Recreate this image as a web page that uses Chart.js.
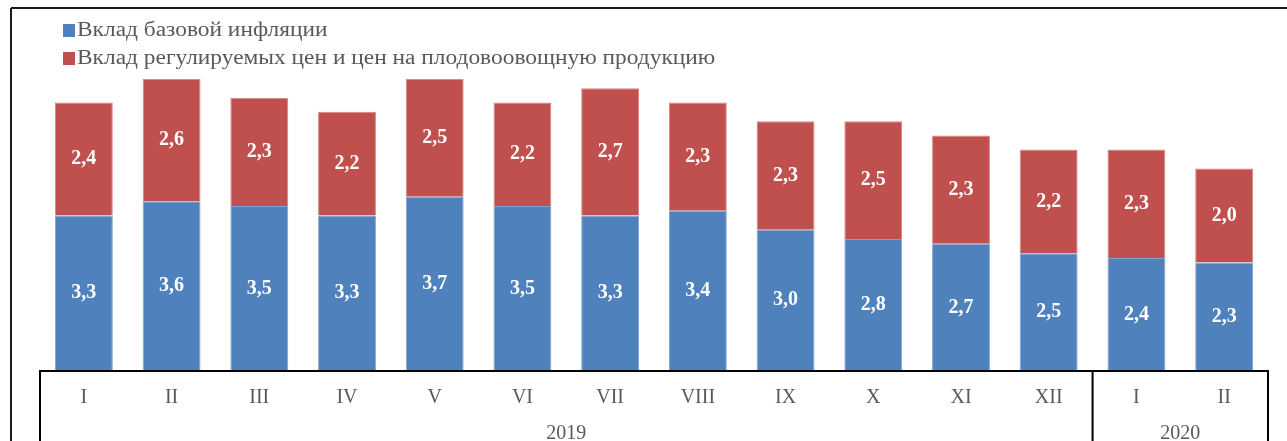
<!DOCTYPE html>
<html>
<head>
<meta charset="utf-8">
<script src="https://cdn.jsdelivr.net/npm/chart.js@4"></script>
<style>
  body { margin: 0; background: #fff; }
  #wrap { width: 1287px; height: 441px; position: relative; }
</style>
</head>
<body>
<div id="wrap"><canvas id="inflChart"></canvas></div>
<script>
const months = ['I', 'II', 'III', 'IV', 'V', 'VI', 'VII', 'VIII', 'IX', 'X', 'XI', 'XII', 'I', 'II'];
const years = ['2019', '2020'];
const monthsPerYear = [12, 2];
const baseInflation = [3.3, 3.6, 3.5, 3.3, 3.7, 3.5, 3.3, 3.4, 3.0, 2.8, 2.7, 2.5, 2.4, 2.3];
const regulatedFood = [2.4, 2.6, 2.3, 2.2, 2.5, 2.2, 2.7, 2.3, 2.3, 2.5, 2.3, 2.2, 2.3, 2.0];
const seriesNames = ['Вклад базовой инфляции', 'Вклад регулируемых цен и цен на плодовоовощную продукцию'];

const serif = '"Liberation Serif", "Times New Roman", serif';
const grey = '#595959';

// labels inside the bars, legend, axis box and years
const decorPlugin = {
    id: 'decor',
    afterDatasetsDraw(chart) {
        const ctx = chart.ctx;
        ctx.save();
        ctx.fillStyle = '#fff';
        ctx.font = 'bold 20px ' + serif;
        ctx.textAlign = 'center';
        ctx.textBaseline = 'middle';
        chart.data.datasets.forEach((ds, i) => {
            chart.getDatasetMeta(i).data.forEach((bar, j) => {
                const txt = ds.data[j].toFixed(1).replace('.', ',');
                ctx.fillText(txt, bar.x, (bar.y + bar.base) / 2);
            });
        });
        ctx.restore();
    },
    afterDraw(chart) {
        const ctx = chart.ctx;
        const area = chart.chartArea;
        const x = chart.scales.x;
        ctx.save();

        // outer frame (top and left)
        ctx.strokeStyle = '#1a1a1a';
        ctx.lineWidth = 2;
        ctx.beginPath();
        ctx.moveTo(11, 8); ctx.lineTo(1287, 8);
        ctx.moveTo(11, 8); ctx.lineTo(11, 441);
        ctx.stroke();

        // legend, one item per line
        ctx.font = '20px ' + serif;
        ctx.textAlign = 'left';
        ctx.textBaseline = 'middle';
        chart.data.datasets.forEach((ds, i) => {
            const y = 31 + 28 * i;
            ctx.fillStyle = ds.backgroundColor;
            ctx.fillRect(63, y - 7, 12, 13);
            ctx.fillStyle = grey;
            ctx.save();
            ctx.translate(77, y);
            ctx.scale(1.17, 1);
            ctx.fillText(ds.label, 0, 0);
            ctx.restore();
        });

        // axis box
        const bottom = chart.height;
        ctx.strokeStyle = '#000';
        ctx.lineWidth = 2;
        ctx.beginPath();
        ctx.moveTo(area.left, bottom); ctx.lineTo(area.left, area.bottom);
        ctx.lineTo(area.right, area.bottom); ctx.lineTo(area.right, bottom);
        ctx.stroke();
        let start = 0;
        let left = area.left;
        ctx.fillStyle = grey;
        ctx.font = '20px ' + serif;
        ctx.textAlign = 'center';
        monthsPerYear.forEach((n, k) => {
            const end = start + n;
            let right = area.right;
            if (end < months.length) {
                right = (x.getPixelForValue(end - 1) + x.getPixelForValue(end)) / 2;
                ctx.beginPath();
                ctx.moveTo(right, area.bottom); ctx.lineTo(right, bottom);
                ctx.stroke();
            }
            ctx.fillText(years[k], (left + right) / 2, 434);
            left = right;
            start = end;
        });
        ctx.restore();
    }
};

new Chart(document.getElementById('inflChart'), {
    type: 'bar',
    data: {
        labels: months,
        datasets: [
            { label: seriesNames[0], data: baseInflation, backgroundColor: '#4F81BD', borderColor: '#7FA3D0', borderWidth: 1 },
            { label: seriesNames[1], data: regulatedFood, backgroundColor: '#C0504D', borderColor: '#D88583', borderWidth: 1 }
        ]
    },
    options: {
        responsive: true,
        maintainAspectRatio: false,
        animation: false,
        layout: { padding: { top: 60, left: 40, right: 19, bottom: 0 } },
        datasets: { bar: { categoryPercentage: 1, barPercentage: 0.66 } },
        plugins: {
            legend: { display: false },
            tooltip: { enabled: false }
        },
        scales: {
            x: {
                stacked: true,
                grid: { display: false },
                border: { display: false },
                ticks: { color: grey, font: { family: serif, size: 20 }, padding: 7, maxRotation: 0 },
                afterFit: (scale) => { scale.height = 70; }
            },
            y: {
                stacked: true,
                display: false,
                min: 0,
                max: 6.6
            }
        }
    },
    plugins: [decorPlugin]
});
</script>
</body>
</html>
